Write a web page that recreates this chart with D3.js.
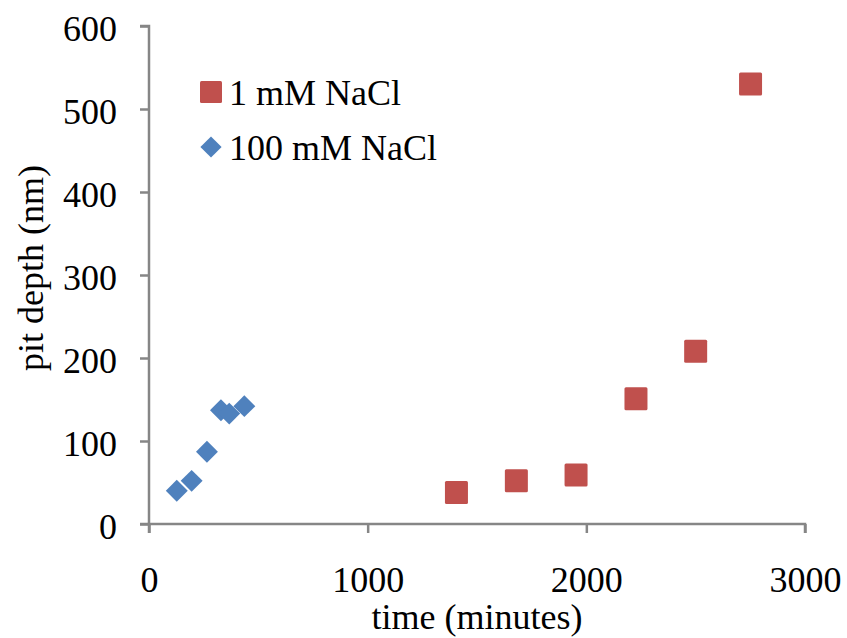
<!DOCTYPE html>
<html>
<head>
<meta charset="utf-8">
<script src="https://cdn.jsdelivr.net/npm/d3@7"></script>
<style>
  html, body { margin: 0; padding: 0; background: #fff; }
  svg { display: block; }
  text { font-family: "Liberation Serif", "Times New Roman", serif; fill: #000; }
</style>
</head>
<body>
<svg id="chart" width="847" height="638"></svg>
<script>
// Data
const seriesNames = ["1 mM NaCl", "100 mM NaCl"];
const time1mM = [1406, 1680, 1953, 2227, 2500, 2751];
const depth1mM = [38, 52, 59, 151, 208, 530];
const time100mM = [127, 195, 265, 329, 367, 436];
const depth100mM = [40, 52, 87, 137, 133, 142];
const xTicks = [0, 1000, 2000, 3000];
const yTicks = [0, 100, 200, 300, 400, 500, 600];
const xTitle = "time (minutes)";
const yTitle = "pit depth (nm)";

const colors = { red: "#C0504D", blue: "#4F81BD", axis: "#868686" };
const FS = 36;

const svg = d3.select("#chart");
const x = d3.scaleLinear().domain([0, 3000]).range([149, 805]);
const y = d3.scaleLinear().domain([0, 600]).range([524, 26]);

// Axes
const xAxis = d3.axisBottom(x).tickValues(xTicks).tickSize(9).tickFormat(d3.format("d"));
const yAxis = d3.axisLeft(y).tickValues(yTicks).tickSize(9).tickPadding(23).tickFormat(d3.format("d"));

const gx = svg.append("g").attr("transform", `translate(0,${y(0)})`).call(xAxis);
const gy = svg.append("g").attr("transform", `translate(${x(0)},0)`).call(yAxis);

[gx, gy].forEach(g => {
  g.select(".domain").attr("stroke", colors.axis).attr("stroke-width", 2.5);
  g.selectAll(".tick line").attr("stroke", colors.axis).attr("stroke-width", 2.5);
  g.selectAll(".tick text")
    .attr("font-family", '"Liberation Serif", "Times New Roman", serif')
    .attr("font-size", FS).attr("fill", "#000");
});
gx.select(".domain").attr("d", `M${x(0)},9V0H${x(3000)}V9`);
gy.select(".domain").attr("d", `M-9,${y(600)}H0V${y(0)}H-9`);
gx.selectAll(".tick text").attr("y", 68).attr("dy", 0);
gy.selectAll(".tick text").attr("dy", "0.39em");

// Axis titles
svg.append("text")
  .attr("x", (x(0) + x(3000)) / 2).attr("y", 629)
  .attr("text-anchor", "middle").attr("font-size", FS)
  .text(xTitle);
svg.append("text")
  .attr("transform", `translate(43,${(y(0) + y(600)) / 2 - 7}) rotate(-90)`)
  .attr("text-anchor", "middle").attr("font-size", FS)
  .text(yTitle);

// Series 1: squares
const sq = 23;
const pts1 = time1mM.map((t, i) => ({ t, d: depth1mM[i] }));
svg.append("g").selectAll("rect").data(pts1).join("rect")
  .attr("x", p => x(p.t) - sq / 2).attr("y", p => y(p.d) - sq / 2)
  .attr("width", sq).attr("height", sq).attr("rx", 1.5)
  .attr("fill", colors.red);

// Series 2: diamonds
const diamond = d3.symbol().type(d3.symbolSquare).size(15.5 * 15.5);
const pts2 = time100mM.map((t, i) => ({ t, d: depth100mM[i] }));
svg.append("g").selectAll("path").data(pts2).join("path")
  .attr("d", diamond)
  .attr("transform", p => `translate(${x(p.t)},${y(p.d)}) rotate(45)`)
  .attr("fill", colors.blue);

// Legend
const leg = svg.append("g");
leg.append("rect").attr("x", 200).attr("y", 81).attr("width", 22).attr("height", 22).attr("rx", 1.5).attr("fill", colors.red);
leg.append("text").attr("x", 229).attr("y", 105).attr("font-size", FS).text(seriesNames[0]);
leg.append("path").attr("d", d3.symbol().type(d3.symbolSquare).size(15 * 15))
  .attr("transform", "translate(211,147) rotate(45)").attr("fill", colors.blue);
leg.append("text").attr("x", 229).attr("y", 160).attr("font-size", FS).text(seriesNames[1]);
</script>
</body>
</html>
